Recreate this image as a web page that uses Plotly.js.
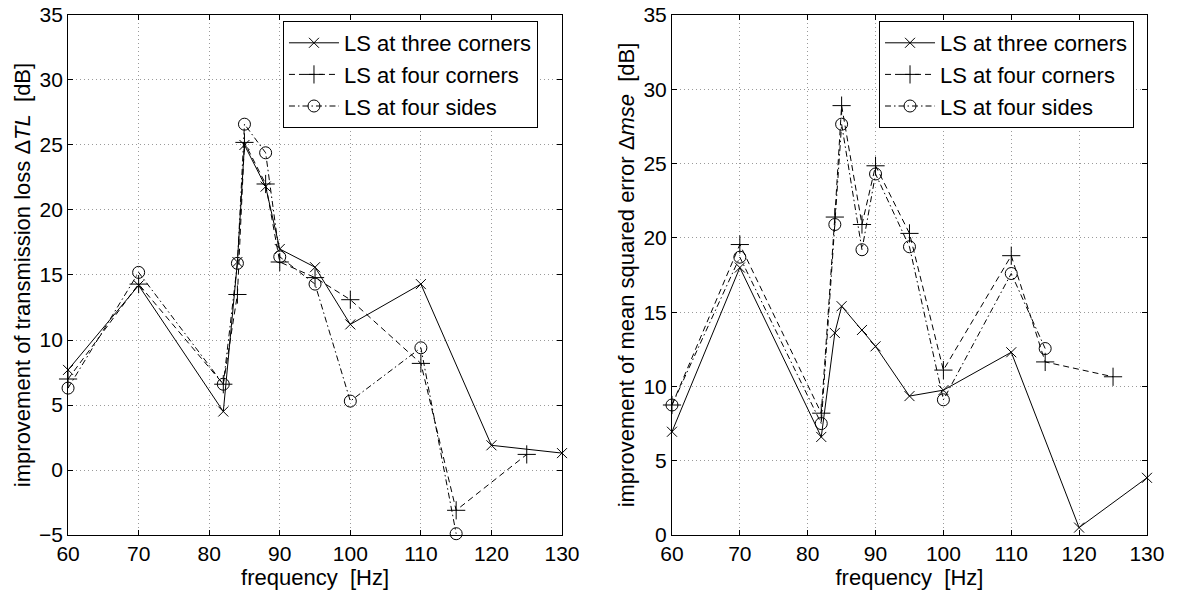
<!DOCTYPE html>
<html>
<head>
<meta charset="utf-8">
<script src="https://cdn.plot.ly/plotly-3.0.1.min.js"></script>
<style>html,body{margin:0;padding:0;background:#fff;}#chart{width:1194px;height:590px;}</style>
</head>
<body>
<div id="chart"></div>
<script>
// Left panel: improvement of transmission loss ΔTL [dB]
const freqTL3  = [60, 70, 82, 84, 85, 88, 90, 95, 100, 110, 120, 130];
const tlThree  = [7.7, 14.2, 4.5, 16.0, 25.0, 21.8, 17.0, 15.6, 11.2, 14.3, 1.9, 1.3];
const freqTL4c = [60, 70, 82, 84, 85, 88, 90, 95, 100, 110, 115, 125];
const tlFourC  = [7.0, 14.3, 6.6, 13.5, 25.2, 22.0, 16.0, 14.8, 13.1, 8.2, -3.1, 1.2];
const freqTL4s = [60, 70, 82, 84, 85, 88, 90, 95, 100, 110, 115];
const tlFourS  = [6.3, 15.2, 6.6, 15.9, 26.6, 24.4, 16.4, 14.3, 5.3, 9.4, -4.9];

// Right panel: improvement of mean squared error Δmse [dB]
const freqM3  = [60, 70, 82, 84, 85, 88, 90, 95, 100, 110, 120, 130];
const mseThree = [6.95, 18.0, 6.6, 13.6, 15.4, 13.8, 12.7, 9.35, 9.75, 12.3, 0.5, 3.85];
const freqM4c = [60, 70, 82, 84, 85, 88, 90, 95, 100, 110, 115, 125];
const mseFourC = [8.75, 19.55, 8.2, 21.4, 28.9, 20.9, 24.85, 20.3, 11.1, 18.8, 11.65, 10.65];
const freqM4s = [60, 70, 82, 84, 85, 88, 90, 95, 100, 110, 115];
const mseFourS = [8.75, 18.7, 7.5, 20.9, 27.65, 19.2, 24.3, 19.4, 9.1, 17.6, 12.55];

const seriesNames = ['LS at three corners', 'LS at four corners', 'LS at four sides'];
const xTicks = [60, 70, 80, 90, 100, 110, 120, 130];
const yTicksL = [-5, 0, 5, 10, 15, 20, 25, 30, 35];
const yTicksR = [0, 5, 10, 15, 20, 25, 30, 35];

const FONT = 'Liberation Sans, Arial, Helvetica, sans-serif';
const styles = [
  {dash: 'solid', symbol: 'x-thin-open', size: 10},
  {dash: '6px,4px', symbol: 'cross-thin-open', size: 13},
  {dash: '6px,3px,1.5px,3px', symbol: 'circle-open', size: 12}
];

function tr(x, y, i, xa, ya, leg) {
  return {
    x: x, y: y, name: seriesNames[i], type: 'scatter', mode: 'lines+markers',
    xaxis: xa, yaxis: ya, legend: leg,
    line: {color: '#000', width: 1, dash: styles[i].dash},
    marker: {symbol: styles[i].symbol, size: styles[i].size, color: '#000',
             line: {color: '#000', width: 1}},
    cliponaxis: false
  };
}

const data = [
  tr(freqTL3, tlThree, 0, 'x', 'y', 'legend'),
  tr(freqTL4c, tlFourC, 1, 'x', 'y', 'legend'),
  tr(freqTL4s, tlFourS, 2, 'x', 'y', 'legend'),
  tr(freqM3, mseThree, 0, 'x2', 'y2', 'legend2'),
  tr(freqM4c, mseFourC, 1, 'x2', 'y2', 'legend2'),
  tr(freqM4s, mseFourS, 2, 'x2', 'y2', 'legend2')
];

function xax(domain, anchor) {
  return {
    domain: domain, anchor: anchor, range: [60, 130],
    tickvals: xTicks, ticktext: xTicks.map(String),
    ticks: 'inside', ticklen: 5, tickcolor: '#000',
    showline: true, linecolor: '#000', linewidth: 1, mirror: 'ticks',
    showgrid: true, gridcolor: '#9a9a9a', griddash: '1px,3px', gridwidth: 1,
    zeroline: false, automargin: false,
    tickfont: {family: FONT, size: 21, color: '#000'},
    title: {text: 'frequency\u00a0 [Hz]', font: {family: FONT, size: 22, color: '#000'}, standoff: 0}
  };
}
function yax(range, ticks, anchor, title) {
  return {
    domain: [0.0932, 0.9746], anchor: anchor, range: range,
    tickvals: ticks, ticktext: ticks.map(v => v < 0 ? '\u2212' + Math.abs(v) : String(v)),
    ticks: 'inside', ticklen: 5, tickcolor: '#000',
    showline: true, linecolor: '#000', linewidth: 1, mirror: 'ticks',
    showgrid: true, gridcolor: '#9a9a9a', griddash: '1px,3px', gridwidth: 1,
    zeroline: false, automargin: false,
    tickfont: {family: FONT, size: 21, color: '#000'},
    title: {text: title, font: {family: FONT, size: 22, color: '#000'}, standoff: 2}
  };
}

const legendBase = {
  yanchor: 'top', xanchor: 'left', y: 0.9644,
  bgcolor: '#fff', bordercolor: '#000', borderwidth: 1,
  font: {family: FONT, size: 22, color: '#000'},
  itemwidth: 50, tracegroupgap: 0
};

const layout = {
  width: 1194, height: 590,
  margin: {l: 0, r: 0, t: 0, b: 0},
  paper_bgcolor: '#fff', plot_bgcolor: '#fff',
  showlegend: true,
  xaxis: xax([0.0570, 0.4707], 'y'),
  yaxis: yax([-5, 35], yTicksL, 'x', 'improvement of transmission loss \u0394<i>TL</i>\u00a0 [dB]'),
  xaxis2: xax([0.5628, 0.9606], 'y2'),
  yaxis2: yax([0, 35], yTicksR, 'x2', 'improvement of mean squared error \u0394<i>mse</i>\u00a0 [dB]'),
  legend: Object.assign({}, legendBase, {x: 0.2370}),
  legend2: Object.assign({}, legendBase, {x: 0.7362})
};

Plotly.newPlot('chart', data, layout, {displayModeBar: false, staticPlot: true});
</script>
</body>
</html>
